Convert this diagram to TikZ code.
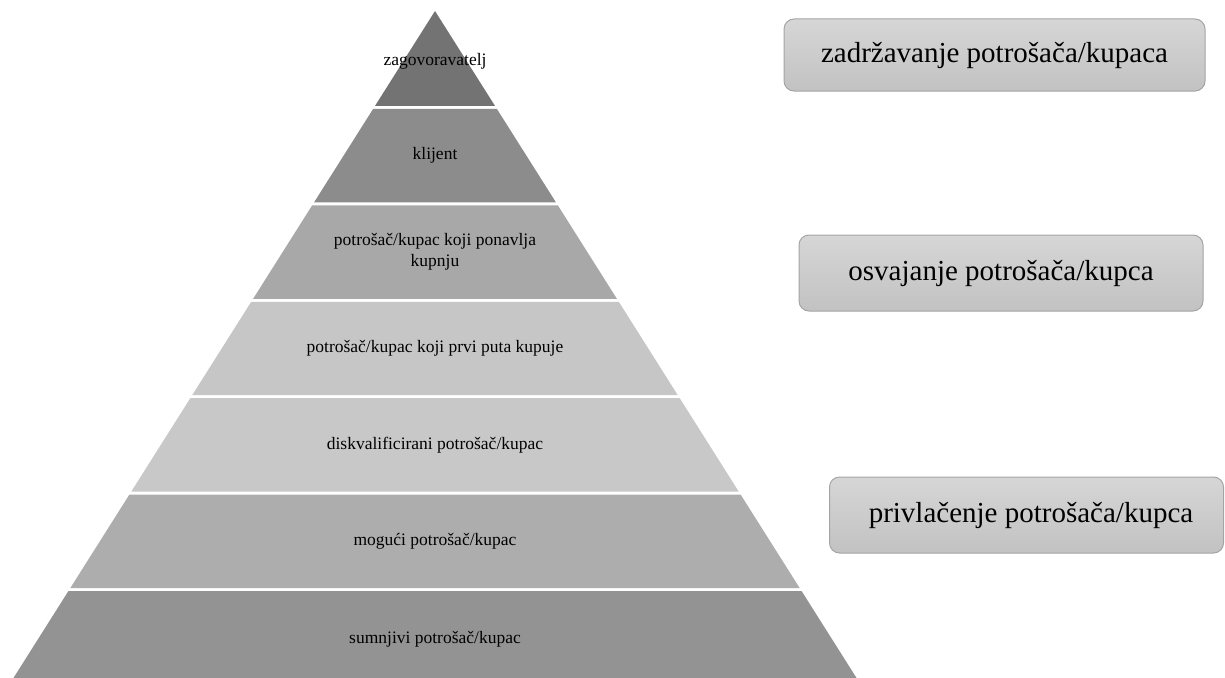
\documentclass[tikz,border=0pt]{standalone}
\usepackage{fontspec}
\setmainfont{Liberation Serif}
\definecolor{Lone}{HTML}{737373}
\definecolor{Ltwo}{HTML}{8C8C8C}
\definecolor{Lthree}{HTML}{A8A8A8}
\definecolor{Lfour}{HTML}{C6C6C6}
\definecolor{Lfive}{HTML}{C8C8C8}
\definecolor{Lsix}{HTML}{ADADAD}
\definecolor{Lseven}{HTML}{939393}
\definecolor{boxtop}{HTML}{D6D6D6}
\definecolor{boxbot}{HTML}{C2C2C2}
\definecolor{boxline}{HTML}{A4A4A4}
\tikzset{
  lbl/.style={inner sep=0pt, align=center, text=black, font=\fontsize{17.5}{21}\selectfont},
  stagebox/.style={rectangle, rounded corners=10pt, draw=boxline, line width=1pt,
    top color=boxtop, bottom color=boxbot, inner sep=0pt, text=black,
    font=\fontsize{29}{34}\selectfont}
}
\begin{document}
\begin{tikzpicture}[x=1pt,y=-1pt]
\useasboundingbox (0,0) rectangle (1225,677);
\begin{scope}
\clip (0,0) rectangle (1225,677);
\foreach \i/\col/\txt in {0/Lone/{zagovoravatelj},1/Ltwo/{klijent},2/Lthree/{potrošač/kupac koji ponavlja\\kupnju},3/Lfour/{potrošač/kupac koji prvi puta kupuje},4/Lfive/{diskvalificirani potrošač/kupac},5/Lsix/{mogući potrošač/kupac},6/Lseven/{sumnjivi potrošač/kupac}} {
  \pgfmathsetmacro\yt{ifthenelse(\i==0, 11, 11+96.43*\i+1.5)}
  \pgfmathsetmacro\yb{ifthenelse(\i==6, 686, 11+96.43*(\i+1)-1.5)}
  \pgfmathsetmacro\wt{0.632*(\yt-11)}
  \pgfmathsetmacro\wb{0.632*(\yb-11)}
  \pgfmathsetmacro\ym{ifthenelse(\i==0, 61, ifthenelse(\i==6, 639, (\yt+\yb)/2))}
  \fill[\col] ({435-\wt},\yt) -- ({435+\wt},\yt) -- ({435+\wb},\yb) -- ({435-\wb},\yb) -- cycle;
  \node[lbl] (layer\i) at (435,\ym) {\txt};
}
\end{scope}
\node[stagebox, minimum width=421pt, minimum height=72pt] (retain) at (994.5,55) {zadržavanje potrošača/kupaca};
\node[stagebox, minimum width=404pt, minimum height=76pt] (win) at (1001,273) {osvajanje potrošača/kupca};
\node[stagebox, minimum width=394pt, minimum height=76pt] (attract) at (1026.5,515) {\hspace*{9pt}privlačenje potrošača/kupca};
\end{tikzpicture}
\end{document}
